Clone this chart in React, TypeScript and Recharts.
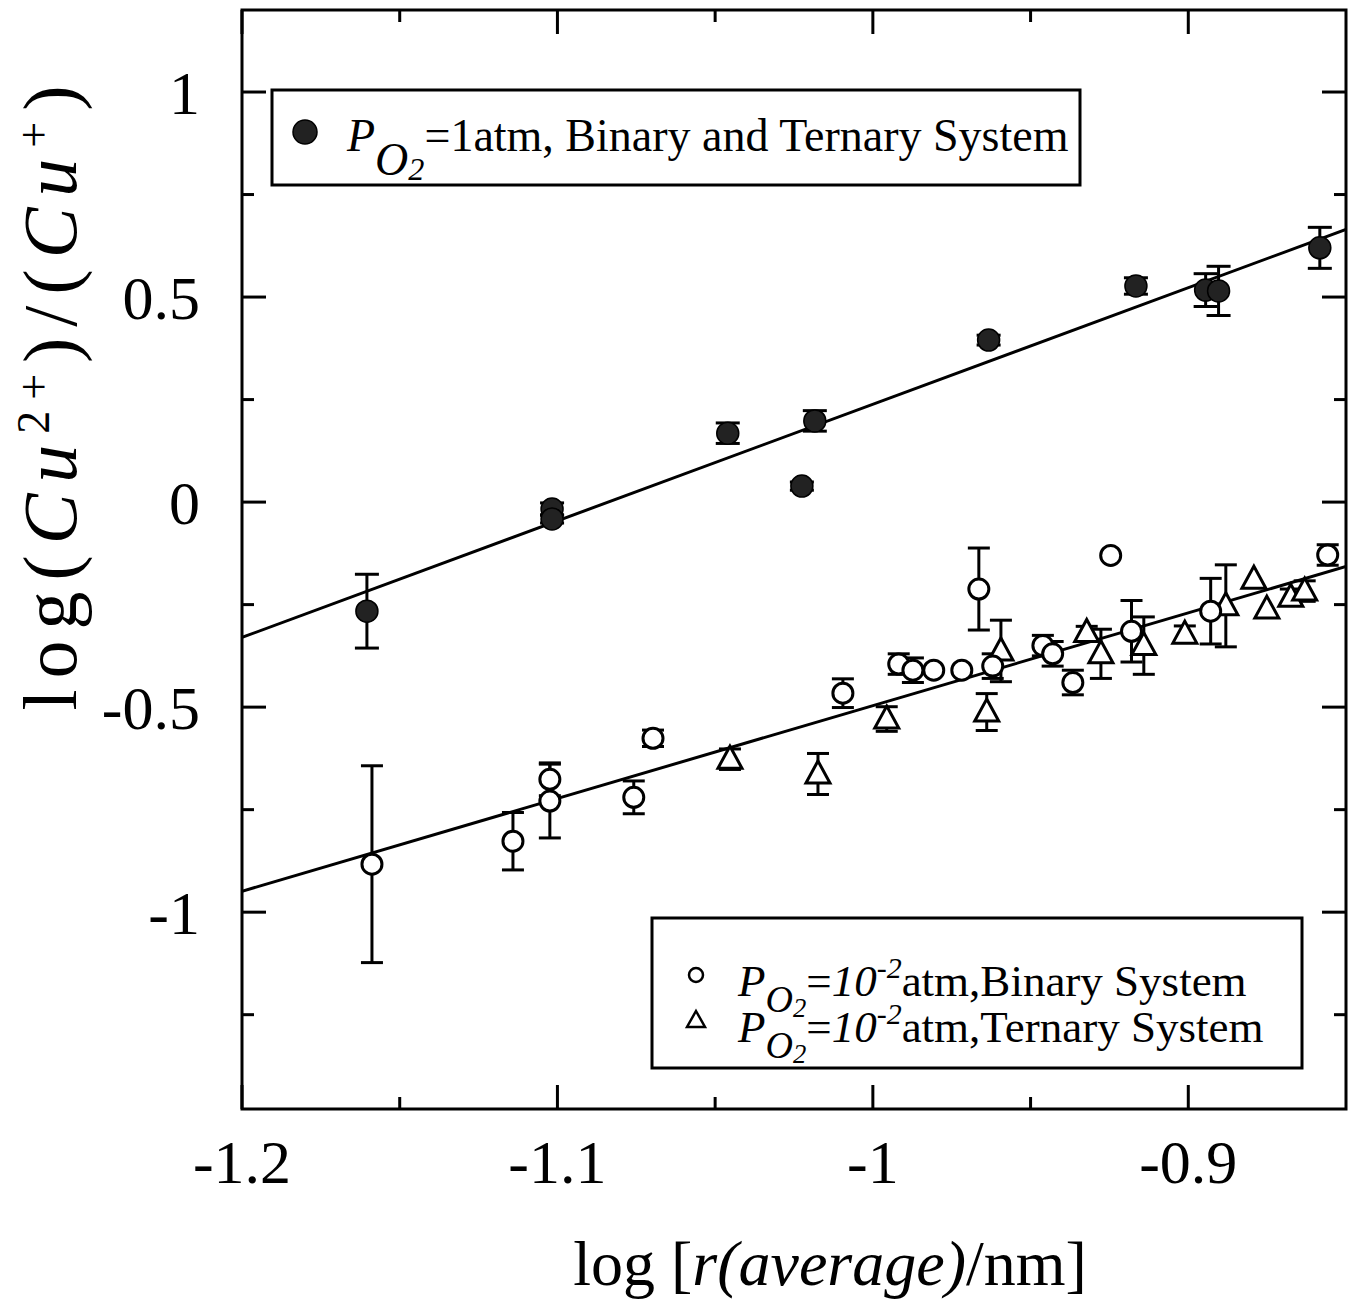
import React from 'react';
import {
    ScatterChart,
    Scatter,
    XAxis,
    YAxis,
    ErrorBar,
    ReferenceLine,
    ReferenceArea,
    Customized,
} from 'recharts';

const SERIF = '"Liberation Serif", "Times New Roman", Times, serif';

// axis ranges and ticks
const xDomain = [-1.2, -0.85];
const yDomain = [-1.48, 1.2];
const xTicks = [-1.2, -1.1, -1, -0.9];
const xMinorTicks = [-1.15, -1.05, -0.95];
const yTicks = [-1, -0.5, 0, 0.5, 1];
const yMinorTicks = [-1.25, -0.75, -0.25, 0.25, 0.75];

// PO2 = 1 atm, binary and ternary systems
const oneAtmX = [-1.1604, -1.1017, -1.1017, -1.046, -1.0225, -1.0184, -0.9633, -0.9166, -0.8945, -0.8904, -0.8583];
const oneAtmY = [-0.266, -0.017, -0.041, 0.168, 0.039, 0.198, 0.395, 0.527, 0.517, 0.515, 0.62];
const oneAtmErr = [0.09, 0.015, 0.01, 0.025, 0.01, 0.025, 0.012, 0.02, 0.04, 0.06, 0.05];

// PO2 = 1e-2 atm, binary system
const binaryX = [-1.1588, -1.1141, -1.1024, -1.1024, -1.0758, -1.0697, -1.0095, -0.9918, -0.9873, -0.9807,
    -0.9718, -0.9664, -0.962, -0.9461, -0.943, -0.9366, -0.9246, -0.918, -0.8929, -0.8558];
const binaryY = [-0.883, -0.827, -0.676, -0.729, -0.72, -0.576, -0.466, -0.395, -0.41, -0.41,
    -0.41, -0.212, -0.4, -0.35, -0.37, -0.44, -0.13, -0.315, -0.266, -0.129];
const binaryErr = [0.24, 0.07, 0.04, 0.09, 0.04, 0.02, 0.035, 0.025, 0.03, 0,
    0, 0.1, 0.03, 0.025, 0.03, 0.03, 0, 0.075, 0.08, 0.025];

// PO2 = 1e-2 atm, ternary system
const ternaryX = [-1.0453, -1.0174, -0.9956, -0.9639, -0.9594, -0.9322, -0.9277, -0.9141, -0.9011,
    -0.8881, -0.8792, -0.8751, -0.8675, -0.8631];
const ternaryY = [-0.627, -0.663, -0.529, -0.512, -0.363, -0.318, -0.37, -0.35, -0.322,
    -0.253, -0.188, -0.261, -0.232, -0.217];
const ternaryErr = [0.025, 0.05, 0.03, 0.045, 0.075, 0.015, 0.06, 0.07, 0.02,
    0.1, 0, 0, 0.02, 0.025];

// fitted lines
const fitX = [-1.2, -0.85];
const oneAtmFitY = [-0.33, 0.665];
const lowFitY = [-0.949, -0.157];

const toPoints = (xs: number[], ys: number[], errs?: number[]) =>
    xs.map((x, i) => ({ x, y: ys[i], err: errs ? errs[i] : 0 }));

const oneAtmData = toPoints(oneAtmX, oneAtmY, oneAtmErr);
const binaryData = toPoints(binaryX, binaryY, binaryErr);
const ternaryData = toPoints(ternaryX, ternaryY, ternaryErr);
const oneAtmFit = toPoints(fitX, oneAtmFitY);
const lowFit = toPoints(fitX, lowFitY);

// plot box in pixels, used to turn tick lengths into data units
const PLOT_W = 1104;
const PLOT_H = 1099;
const xPerPx = (xDomain[1] - xDomain[0]) / PLOT_W;
const yPerPx = (yDomain[1] - yDomain[0]) / PLOT_H;

const FilledDot = (p: any) => (
    <circle cx={p.cx} cy={p.cy} r={11} fill="#222" stroke="#000" strokeWidth={1.5} />
);
const OpenDot = (p: any) => (
    <circle cx={p.cx} cy={p.cy} r={10} fill="#fff" stroke="#000" strokeWidth={3} />
);
const OpenTriangle = (p: any) => (
    <path
        d={`M${p.cx},${p.cy - 13} L${p.cx + 12},${p.cy + 9} L${p.cx - 12},${p.cy + 9} Z`}
        fill="#fff"
        stroke="#000"
        strokeWidth={3}
    />
);
const NoDot = () => <g />;

// inward tick marks on all four sides
const tickSegments = () => {
    const segs: { x1: number; y1: number; x2: number; y2: number }[] = [];
    const addX = (t: number, len: number) => {
        segs.push({ x1: t, y1: yDomain[0], x2: t, y2: yDomain[0] + len * yPerPx });
        segs.push({ x1: t, y1: yDomain[1], x2: t, y2: yDomain[1] - len * yPerPx });
    };
    const addY = (t: number, len: number) => {
        segs.push({ x1: xDomain[0], y1: t, x2: xDomain[0] + len * xPerPx, y2: t });
        segs.push({ x1: xDomain[1], y1: t, x2: xDomain[1] - len * xPerPx, y2: t });
    };
    xTicks.forEach(t => addX(t, 24));
    xMinorTicks.forEach(t => addX(t, 12));
    yTicks.forEach(t => addY(t, 24));
    yMinorTicks.forEach(t => addY(t, 12));
    return segs;
};

const XLabel = () => (
    <text x={830} y={1285} textAnchor="middle" fontFamily={SERIF} fontSize={64} fill="#000">
        log [<tspan fontStyle="italic">r(average)</tspan>/nm]
    </text>
);

const YLabel = () => (
    <text transform="translate(76,398) rotate(-90)" textAnchor="middle" fontFamily={SERIF}
        fontSize={76} fill="#000" textLength={625} lengthAdjust="spacing">
        log(<tspan fontStyle="italic">Cu</tspan>
        <tspan fontSize={46} dy={-27}>2+</tspan>
        <tspan dy={27}>)/(</tspan>
        <tspan fontStyle="italic">Cu</tspan>
        <tspan fontSize={46} dy={-27}>+</tspan>
        <tspan dy={27}>)</tspan>
    </text>
);

// P with an O2 subscript; drop/size differ a little between the two boxes
const PO2 = ({ sub, drop }: { sub: number; drop: number }) => (
    <>
        <tspan fontStyle="italic">P</tspan>
        <tspan fontStyle="italic" fontSize={sub} dy={drop}>O</tspan>
        <tspan fontStyle="italic" fontSize={sub * 0.7} dy={5}>2</tspan>
    </>
);

const LegendBoxes = () => (
    <g fontFamily={SERIF} fill="#000">
        {/* top box: 1 atm */}
        <rect x={272} y={90} width={808} height={95} fill="#fff" stroke="#000" strokeWidth={3} />
        <circle cx={305} cy={132} r={12} fill="#222" stroke="#000" strokeWidth={1.5} />
        <text x={347} y={151} fontSize={46}>
            <PO2 sub={46} drop={24} />
            <tspan fontSize={46} dy={-29}>=1atm, Binary and Ternary System</tspan>
        </text>

        {/* bottom box: 1e-2 atm */}
        <rect x={652} y={918} width={650} height={150} fill="#fff" stroke="#000" strokeWidth={3} />
        <circle cx={696} cy={975} r={7} fill="#fff" stroke="#000" strokeWidth={2.5} />
        <path d="M696,1011 L705,1027 L687,1027 Z" fill="#fff" stroke="#000" strokeWidth={2.5} />
        <text x={738} y={996} fontSize={45}>
            <PO2 sub={38} drop={16} />
            <tspan fontSize={45} dy={-21}>=</tspan>
            <tspan fontStyle="italic">10</tspan>
            <tspan fontStyle="italic" fontSize={30} dy={-18}>-2</tspan>
            <tspan dy={18}>atm,Binary System</tspan>
        </text>
        <text x={738} y={1042} fontSize={45}>
            <PO2 sub={38} drop={16} />
            <tspan fontSize={45} dy={-21}>=</tspan>
            <tspan fontStyle="italic">10</tspan>
            <tspan fontStyle="italic" fontSize={30} dy={-18}>-2</tspan>
            <tspan dy={18}>atm,Ternary System</tspan>
        </text>
    </g>
);

const tickStyle = { fontSize: 62, fill: '#000', fontFamily: SERIF };

export default function App() {
    return (
        <div style={{ position: 'absolute', left: 0, top: 0, background: '#fff' }}>
            <ScatterChart width={1351} height={1299} margin={{ top: 10, right: 5, bottom: 0, left: 0 }}>
                <XAxis
                    type="number"
                    dataKey="x"
                    domain={xDomain}
                    ticks={xTicks}
                    interval={0}
                    allowDataOverflow
                    axisLine={false}
                    tickLine={false}
                    tickSize={0}
                    tickMargin={30}
                    height={190}
                    tick={tickStyle}
                    tickFormatter={(v: number) => String(v)}
                    label={{ content: XLabel }}
                />
                <YAxis
                    type="number"
                    dataKey="y"
                    domain={yDomain}
                    ticks={yTicks}
                    interval={0}
                    allowDataOverflow
                    axisLine={false}
                    tickLine={false}
                    tickSize={0}
                    tickMargin={42}
                    width={242}
                    tick={tickStyle}
                    tickFormatter={(v: number) => String(v)}
                    label={{ content: YLabel }}
                />

                <ReferenceArea
                    x1={xDomain[0]}
                    x2={xDomain[1]}
                    y1={yDomain[0]}
                    y2={yDomain[1]}
                    fill="none"
                    stroke="#000"
                    strokeWidth={3}
                />
                {tickSegments().map((s, i) => (
                    <ReferenceLine
                        key={i}
                        segment={[{ x: s.x1, y: s.y1 }, { x: s.x2, y: s.y2 }]}
                        stroke="#000"
                        strokeWidth={3}
                    />
                ))}

                <Scatter data={oneAtmFit} line={{ stroke: '#000', strokeWidth: 3 }} shape={NoDot}
                    isAnimationActive={false} />
                <Scatter data={lowFit} line={{ stroke: '#000', strokeWidth: 3 }} shape={NoDot}
                    isAnimationActive={false} />

                <Scatter data={ternaryData} shape={OpenTriangle} isAnimationActive={false}>
                    <ErrorBar dataKey="err" direction="y" width={11} stroke="#000" strokeWidth={3}
                        isAnimationActive={false} />
                </Scatter>
                <Scatter data={binaryData} shape={OpenDot} isAnimationActive={false}>
                    <ErrorBar dataKey="err" direction="y" width={11} stroke="#000" strokeWidth={3}
                        isAnimationActive={false} />
                </Scatter>
                <Scatter data={oneAtmData} shape={FilledDot} isAnimationActive={false}>
                    <ErrorBar dataKey="err" direction="y" width={12} stroke="#000" strokeWidth={3}
                        isAnimationActive={false} />
                </Scatter>

                <Customized component={LegendBoxes} />
            </ScatterChart>
        </div>
    );
}
